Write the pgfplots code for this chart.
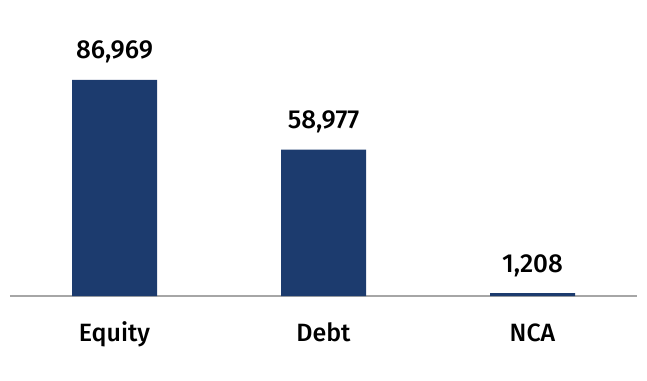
\documentclass[border=0pt]{standalone}
\usepackage{fontspec}
\setmainfont{Fira Sans Medium}
\usepackage{pgfplots}
\pgfplotsset{compat=1.18}
\definecolor{barblue}{HTML}{1C3B6E}
\definecolor{axisgray}{HTML}{A6A6A6}
\begin{document}
\begin{tikzpicture}
\begin{axis}[
  scale only axis,
  width=627pt, height=248.4pt,
  xmin=-0.5, xmax=2.5,
  ymin=0, ymax=100000,
  axis x line*=bottom,
  axis y line=none,
  x axis line style={-, draw=axisgray, line width=1.8pt},
  xtick=data,
  xticklabels={Equity, Debt, NCA},
  xtick style={draw=none},
  xticklabel style={anchor=base, yshift=-41pt, font=\fontsize{25}{28}\selectfont},
  ybar, bar width=85pt,
  nodes near coords,
  nodes near coords style={anchor=base, yshift=21pt, font=\fontsize{26}{29}\selectfont, text=black},
  /pgf/number format/assume math mode=true,
  /pgf/number format/fixed,
  /pgf/number format/precision=0,
  /pgf/number format/1000 sep={,},
  clip=false,
]
\addplot[fill=barblue, draw=none] coordinates {(0,86969) (1,58977) (2,1208)};
\coordinate (O) at (rel axis cs:0,0);
\end{axis}
\path[use as bounding box] (O) ++(-10pt,-84pt) rectangle ++(647pt,380pt);
\end{tikzpicture}
\end{document}
